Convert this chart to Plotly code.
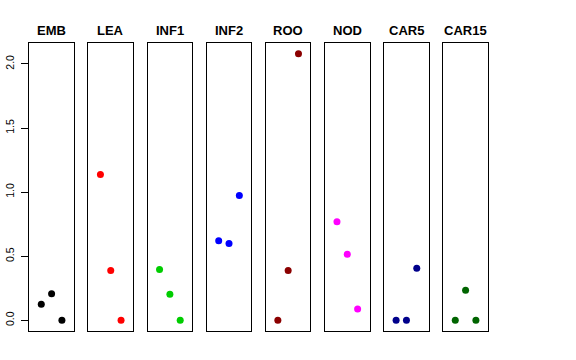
import plotly.graph_objects as go

panels = ["EMB", "LEA", "INF1", "INF2", "ROO", "NOD", "CAR5", "CAR15"]
x_pos = [1, 2, 3]
values = {
    "EMB": [0.125, 0.208, 0.0],
    "LEA": [1.138, 0.388, 0.0],
    "INF1": [0.396, 0.203, 0.0],
    "INF2": [0.62, 0.60, 0.974],
    "ROO": [0.0, 0.388, 2.08],
    "NOD": [0.768, 0.516, 0.088],
    "CAR5": [0.0, 0.0, 0.406],
    "CAR15": [0.0, 0.234, 0.0],
}
colors = ["#000000", "#FF0000", "#00CD00", "#0000FF", "#8B0000", "#FF00FF", "#00008B", "#006400"]
y_ticks = [0.0, 0.5, 1.0, 1.5, 2.0]
y_range = [-0.0832, 2.1632]
x_range = [-0.16, 4.16]

W, H = 576, 360
left0, step, width = 29.3, 59.14, 44.6
top, bottom = 43, 331

fig = go.Figure()
for i, name in enumerate(panels):
    ax = "" if i == 0 else str(i + 1)
    x0 = (left0 + i * step) / W
    x1 = (left0 + i * step + width) / W
    fig.add_trace(go.Scatter(
        x=x_pos, y=values[name], mode="markers",
        marker=dict(color=colors[i], size=7, line=dict(width=0)),
        xaxis="x" + ax, yaxis="y" + ax, showlegend=False, hoverinfo="y",
    ))
    fig.layout["xaxis" + ax] = dict(
        domain=[x0, x1], range=x_range, anchor="y" + ax,
        showgrid=False, zeroline=False, showticklabels=False, ticks="",
        showline=True, mirror=True, linecolor="#000000", linewidth=1,
    )
    yax = dict(
        domain=[1 - bottom / H, 1 - top / H], range=y_range, anchor="x" + ax,
        showgrid=False, zeroline=False,
        showline=True, mirror=True, linecolor="#000000", linewidth=1,
    )
    if i == 0:
        yax.update(tickvals=y_ticks, ticktext=[f"{v:.1f}" for v in y_ticks],
                   ticks="outside", ticklen=7, tickcolor="#000000",
                   tickangle=-90, ticklabelstandoff=3,
                   tickfont=dict(family="Liberation Sans, Arial, sans-serif", size=10.5, color="#000000"))
    else:
        yax.update(showticklabels=False, ticks="")
    fig.layout["yaxis" + ax] = yax
    fig.add_annotation(
        x=(x0 + x1) / 2, y=1 - 30 / H, xref="paper", yref="paper",
        text="<b>" + name + "</b>", showarrow=False,
        font=dict(family="Liberation Sans, Arial, sans-serif", size=13, color="#000000"),
        xanchor="center", yanchor="middle",
    )

fig.update_layout(
    width=W, height=H, margin=dict(l=0, r=0, t=0, b=0),
    paper_bgcolor="white", plot_bgcolor="white",
)
fig.write_html(
    "out.html",
    config={"displayModeBar": False},
    post_script="document.body.style.margin='0';document.body.style.overflow='hidden';",
)
